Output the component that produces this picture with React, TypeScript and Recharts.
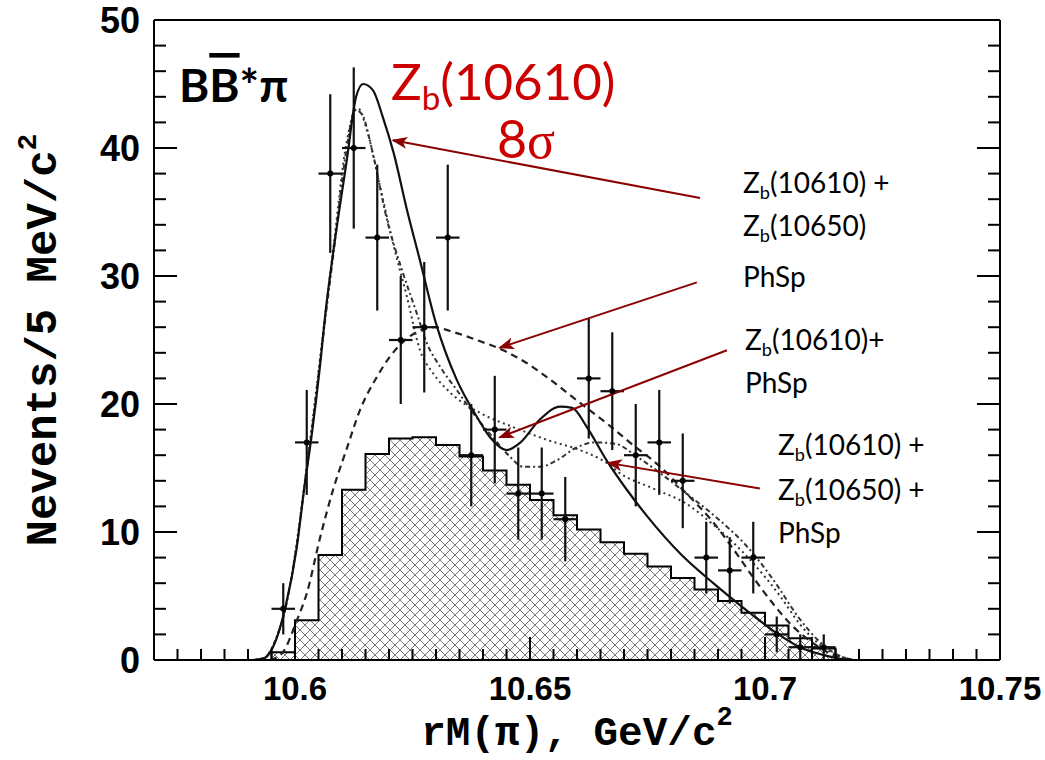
import React from "react";
import {
  ComposedChart,
  XAxis,
  YAxis,
  Line,
  Area,
  Scatter,
  ErrorBar,
  ReferenceLine,
} from "recharts";

// data points: bin centres (GeV/c^2), counts per 5 MeV, errors
const binCenters = [
  10.5975, 10.6025, 10.6075, 10.6125, 10.6175, 10.6225, 10.6275, 10.6325,
  10.6375, 10.6425, 10.6475, 10.6525, 10.6575, 10.6625, 10.6675, 10.6725,
  10.6775, 10.6825, 10.6875, 10.6925, 10.6975, 10.7025, 10.7075, 10.7125,
];
const counts = [4, 17, 38, 40, 33, 25, 26, 33, 16, 18, 13, 13, 11, 22, 21, 16, 17, 14, 8, 7, 8, 2, 1, 1];
const countErrors = [2, 4.1, 6.2, 6.3, 5.7, 5, 5.1, 5.7, 4, 4.2, 3.6, 3.6, 3.3, 4.7, 4.6, 4, 4.1, 3.7, 2.8, 2.6, 2.8, 1.4, 1, 1];
const halfBin = 0.0025;

// hatched background histogram (left bin edges)
const bkgEdges = [
  10.595, 10.6, 10.605, 10.61, 10.615, 10.62, 10.625, 10.63, 10.635, 10.64,
  10.645, 10.65, 10.655, 10.66, 10.665, 10.67, 10.675, 10.68, 10.685, 10.69,
  10.695, 10.7, 10.705, 10.71,
];
const bkgCounts = [
  0.6, 3.1, 8.2, 13.3, 16.1, 17.3, 17.4, 16.8, 15.9, 14.8, 13.7, 12.5, 11.3,
  10.2, 9.2, 8.3, 7.3, 6.4, 5.5, 4.6, 3.7, 2.7, 1.7, 0.9,
];
const bkgEnd = 10.715;

// fit: Zb(10610) + Zb(10650) (solid)
const fitZbZbX = [
  10.591, 10.5935, 10.5953, 10.598, 10.6003, 10.602, 10.6036, 10.6053, 10.6066,
  10.608, 10.611, 10.613, 10.6145, 10.6166, 10.6187, 10.621, 10.6238, 10.6266,
  10.63, 10.6344, 10.6387, 10.6415, 10.645, 10.648, 10.652, 10.6564, 10.659,
  10.6621, 10.6663, 10.6706, 10.675, 10.682, 10.689, 10.696, 10.7017, 10.7074,
  10.7123, 10.716, 10.719,
];
const fitZbZbY = [
  0, 0.15, 1, 4.2, 8.6, 13.5, 17.7, 22.9, 27.5, 31.5, 39, 44, 45, 44.5, 42.4,
  39.6, 35.2, 31.2, 26.3, 21.9, 19, 17.4, 16.4, 17, 18.75, 19.8, 19.7, 18.2,
  15.6, 13.3, 11.2, 8.3, 6, 3.9, 2.3, 1, 0.4, 0.1, 0,
];

// fit: phase space only (dashed)
const fitPhSpX = [
  10.5947, 10.5974, 10.6004, 10.6025, 10.6053, 10.6081, 10.611, 10.6138,
  10.6174, 10.6202, 10.6245, 10.6298, 10.633, 10.6394, 10.6443, 10.6493,
  10.6543, 10.6606, 10.6663, 10.6719, 10.6777, 10.6833, 10.6889, 10.6932,
  10.6974, 10.7017, 10.706, 10.7103, 10.7145, 10.7174, 10.7191,
];
const fitPhSpY = [
  0, 0.6, 3.1, 5.2, 9.5, 13.3, 16.5, 19.5, 22.1, 23.7, 25.3, 26, 25.7, 24.9,
  24.2, 23.2, 21.9, 20.1, 18.5, 16.8, 15.1, 13, 10.8, 8.7, 6.5, 4.4, 2.6, 1.3,
  0.4, 0.1, 0,
];

// fit: Zb(10610) + PhSp (dotted)
const fitZbPhSpX = [
  10.5915, 10.5936, 10.5953, 10.5982, 10.6003, 10.6021, 10.6036, 10.6053,
  10.6081, 10.611, 10.6134, 10.6153, 10.6181, 10.6209, 10.6238, 10.6266,
  10.6294, 10.633, 10.6394, 10.6464, 10.6536, 10.6606, 10.6663, 10.6691,
  10.6762, 10.6833, 10.6889, 10.6926, 10.6974, 10.7032, 10.7074, 10.7117,
  10.716, 10.7191,
];
const fitZbPhSpY = [
  0, 0.2, 1.1, 4.5, 9, 14, 18.3, 23.5, 32, 40.5, 43.1, 41.4, 37, 32.5, 28.4,
  24.2, 22.4, 20.9, 19.3, 18.2, 17.2, 16.4, 15.4, 14.6, 13.4, 12.2, 10.6, 9.4,
  7.6, 5, 2.8, 1.2, 0.3, 0,
];

// fit: Zb(10610) + Zb(10650) + PhSp (dash-dotted)
const fitAllX = [
  10.5915, 10.5936, 10.5953, 10.5982, 10.6003, 10.6021, 10.6036, 10.6053,
  10.6081, 10.611, 10.6128, 10.6143, 10.6166, 10.6195, 10.623, 10.6259,
  10.628, 10.6309, 10.6344, 10.6385, 10.6421, 10.6457, 10.6485, 10.6521,
  10.6557, 10.6599, 10.6638, 10.6681, 10.6727, 10.6777, 10.6833, 10.6904,
  10.6961, 10.7017, 10.7074, 10.7117, 10.716, 10.7191,
];
const fitAllY = [
  0, 0.2, 1.1, 4.4, 8.8, 13.8, 18, 23.2, 31.5, 40, 43, 42.6, 39.5, 34.5, 30.2,
  27.1, 24.8, 22.9, 21.1, 19, 17.4, 15.9, 15.1, 15.1, 15.6, 16.6, 17, 16.9,
  15.9, 14.6, 13, 10.9, 8.9, 6.3, 3.2, 1.4, 0.3, 0,
];

// annotation arrows, [fromX, fromY, toX, toY] in axis units
const arrowZbZb = [10.6862, 36.1, 10.6209, 40.6];
const arrowPhSp = [10.6855, 29.5, 10.6436, 24.4];
const arrowZbPhSp = [10.6919, 24.2, 10.6436, 17.4];
const arrowAll = [10.6989, 13.4, 10.6666, 15.4];

const X_MIN = 10.57;
const X_MAX = 10.75;
const xTicks = Array.from({ length: 37 }, (_, i) => Math.round((X_MIN + i * 0.005) * 1000) / 1000);
const yTicks = Array.from({ length: 26 }, (_, i) => i * 2);

const toPoints = (xs: number[], ys: number[]) => xs.map((x, i) => ({ x, y: ys[i] }));

const histData = [
  { x: bkgEdges[0], y: 0 },
  ...bkgEdges.map((x, i) => ({ x, y: bkgCounts[i] })),
  { x: bkgEnd, y: bkgCounts[bkgCounts.length - 1] },
  { x: bkgEnd, y: 0 },
];
const pointData = binCenters.map((x, i) => ({ x, y: counts[i], ex: halfBin, ey: countErrors[i] }));

const numFont = "'Liberation Sans', Arial, sans-serif";
const monoFont = "'Liberation Mono', 'DejaVu Sans Mono', monospace";
const textFont = "Lato, 'Open Sans', 'Noto Sans', sans-serif";
const red = "#cc0000";
const darkRed = "#8b0000";

const isMajorX = (v: number) => Math.round(v * 1000) % 50 === 0;
const fmtX = (v: number) => String(parseFloat(v.toFixed(3)));

const BottomTick = (props: any) => {
  const { x, y, payload } = props;
  const major = isMajorX(payload.value);
  return (
    <g>
      <line x1={x} y1={y} x2={x} y2={y - (major ? 23 : 11)} stroke="#000" strokeWidth={2} />
      {major && (
        <text x={x} y={y + 40} textAnchor="middle" fontFamily={numFont} fontWeight="bold" fontSize={33} fill="#000">
          {fmtX(payload.value)}
        </text>
      )}
    </g>
  );
};

const TopTick = (props: any) => {
  const { x, y, payload } = props;
  const major = isMajorX(payload.value);
  return <line x1={x} y1={y} x2={x} y2={y + (major ? 23 : 11)} stroke="#000" strokeWidth={2} />;
};

const LeftTick = (props: any) => {
  const { x, y, payload } = props;
  const major = payload.value % 10 === 0;
  return (
    <g>
      <line x1={x} y1={y} x2={x + (major ? 23 : 12)} y2={y} stroke="#000" strokeWidth={2} />
      {major && (
        <text x={x - 14} y={y + 13} textAnchor="end" fontFamily={numFont} fontWeight="bold" fontSize={36} fill="#000">
          {payload.value}
        </text>
      )}
    </g>
  );
};

const RightTick = (props: any) => {
  const { x, y, payload } = props;
  const major = payload.value % 10 === 0;
  return <line x1={x} y1={y} x2={x - (major ? 23 : 12)} y2={y} stroke="#000" strokeWidth={2} />;
};

const arrowShape = (p: any) => (
  <line x1={p.x1} y1={p.y1} x2={p.x2} y2={p.y2} stroke={darkRed} strokeWidth={2} markerEnd="url(#arrowHead)" />
);

const Dot = (p: any) => <circle cx={p.cx} cy={p.cy} r={3} fill="#000" />;

function Zb({ x, y, size, rest, fill }: { x: number; y: number; size: number; rest: string; fill: string }) {
  return (
    <text x={x} y={y} fontFamily={textFont} fontSize={size} fill={fill}>
      Z
      <tspan fontSize={size * 0.65} dy={size * 0.2}>b</tspan>
      <tspan dy={-size * 0.2}>{rest}</tspan>
    </text>
  );
}

function Arrow({ a }: { a: number[] }) {
  return (
    <ReferenceLine
      segment={[{ x: a[0], y: a[1] }, { x: a[2], y: a[3] }]}
      shape={arrowShape}
      ifOverflow="visible"
    />
  );
}

export default function App() {
  return (
    <div style={{ position: "absolute", left: 0, top: 0, width: 1045, height: 760, background: "#fff" }}>
      <svg width={0} height={0} style={{ position: "absolute" }}>
        <defs>
          <pattern id="xhatch" width={10} height={10} patternUnits="userSpaceOnUse">
            <path d="M0,0 L10,10 M10,0 L0,10" stroke="#7a7a7a" strokeWidth={1} />
          </pattern>
          <marker id="arrowHead" markerWidth={16} markerHeight={12} refX={14} refY={6} orient="auto" markerUnits="userSpaceOnUse">
            <path d="M0,0 L16,6 L0,12 L4,6 z" fill={darkRed} />
          </marker>
        </defs>
      </svg>
      <ComposedChart width={1045} height={760} margin={{ top: 0, right: 0, bottom: 0, left: 0 }}>
        <XAxis
          dataKey="x"
          type="number"
          domain={[X_MIN, X_MAX]}
          allowDataOverflow
          ticks={xTicks}
          interval={0}
          height={100}
          tickSize={0}
          tickMargin={0}
          tick={<BottomTick />}
          axisLine={{ stroke: "#000", strokeWidth: 2 }}
          tickLine={false}
        />
        <XAxis
          xAxisId="top"
          orientation="top"
          type="number"
          domain={[X_MIN, X_MAX]}
          allowDataOverflow
          ticks={xTicks}
          interval={0}
          height={20}
          tickSize={0}
          tickMargin={0}
          tick={<TopTick />}
          axisLine={{ stroke: "#000", strokeWidth: 2 }}
          tickLine={false}
        />
        <YAxis
          dataKey="y"
          type="number"
          domain={[0, 50]}
          allowDataOverflow
          ticks={yTicks}
          interval={0}
          width={154}
          tickSize={0}
          tickMargin={0}
          tick={<LeftTick />}
          axisLine={{ stroke: "#000", strokeWidth: 2 }}
          tickLine={false}
        />
        <YAxis
          yAxisId="right"
          orientation="right"
          type="number"
          domain={[0, 50]}
          allowDataOverflow
          ticks={yTicks}
          interval={0}
          width={45}
          tickSize={0}
          tickMargin={0}
          tick={<RightTick />}
          axisLine={{ stroke: "#000", strokeWidth: 2 }}
          tickLine={false}
        />

        <Area
          data={histData}
          dataKey="y"
          type="stepAfter"
          stroke="#000"
          strokeWidth={2}
          fill="url(#xhatch)"
          fillOpacity={1}
          isAnimationActive={false}
          dot={false}
          activeDot={false}
        />

        <Line data={toPoints(fitPhSpX, fitPhSpY)} dataKey="y" type="monotone" stroke="#222" strokeWidth={2.2} strokeDasharray="7 5" dot={false} activeDot={false} isAnimationActive={false} />
        <Line data={toPoints(fitZbPhSpX, fitZbPhSpY)} dataKey="y" type="monotone" stroke="#333" strokeWidth={2} strokeDasharray="2 3.5" dot={false} activeDot={false} isAnimationActive={false} />
        <Line data={toPoints(fitAllX, fitAllY)} dataKey="y" type="monotone" stroke="#333" strokeWidth={2} strokeDasharray="5 3 2 3" dot={false} activeDot={false} isAnimationActive={false} />
        <Line data={toPoints(fitZbZbX, fitZbZbY)} dataKey="y" type="monotone" stroke="#111" strokeWidth={2.2} dot={false} activeDot={false} isAnimationActive={false} />

        <Scatter data={pointData} dataKey="y" shape={Dot} isAnimationActive={false}>
          <ErrorBar dataKey="ey" direction="y" width={0} stroke="#111" strokeWidth={2.2} isAnimationActive={false} />
          <ErrorBar dataKey="ex" direction="x" width={0} stroke="#111" strokeWidth={2.2} isAnimationActive={false} />
        </Scatter>

        {Arrow({ a: arrowZbZb })}
        {Arrow({ a: arrowPhSp })}
        {Arrow({ a: arrowZbPhSp })}
        {Arrow({ a: arrowAll })}
      </ComposedChart>

      <svg width={1045} height={760} style={{ position: "absolute", left: 0, top: 0, pointerEvents: "none" }}>
        {/* axis titles */}
        <text transform="translate(56,340) rotate(-90)" textAnchor="middle" fontFamily={monoFont} fontWeight="bold" fontSize={44} fill="#000">
          Nevents/5 MeV/c<tspan fontSize={28} dy={-20}>2</tspan>
        </text>
        <text x={577} y={745} textAnchor="middle" fontFamily={monoFont} fontWeight="bold" fontSize={41} fill="#000">
          rM(π), GeV/c<tspan fontSize={27} dy={-20}>2</tspan>
        </text>

        {/* channel */}
        <text x={179} y={102} fontFamily={textFont} fontWeight="bold" fontSize={46} fill="#000">
          B<tspan style={{ textDecoration: "overline" }}>B</tspan>*π
        </text>

        {/* red title */}
        <Zb x={391} y={100} size={51} rest="(10610)" fill={red} />
        <text x={526} y={158} textAnchor="middle" fontSize={52} fill={red} fontFamily={textFont}>
          8<tspan fontFamily="'Liberation Serif', 'DejaVu Serif', serif">σ</tspan>
        </text>

        {/* curve labels */}
        <Zb x={743} y={193} size={28} rest="(10610) +" fill="#000" />
        <Zb x={743} y={236} size={28} rest="(10650)" fill="#000" />
        <text x={743} y={287} fontFamily={textFont} fontSize={28} fill="#000">PhSp</text>
        <Zb x={745} y={350} size={28} rest="(10610)+" fill="#000" />
        <text x={745} y={393} fontFamily={textFont} fontSize={28} fill="#000">PhSp</text>
        <Zb x={778} y={455} size={28} rest="(10610) +" fill="#000" />
        <Zb x={778} y={500} size={28} rest="(10650) +" fill="#000" />
        <text x={778} y={543} fontFamily={textFont} fontSize={28} fill="#000">PhSp</text>
      </svg>
    </div>
  );
}
